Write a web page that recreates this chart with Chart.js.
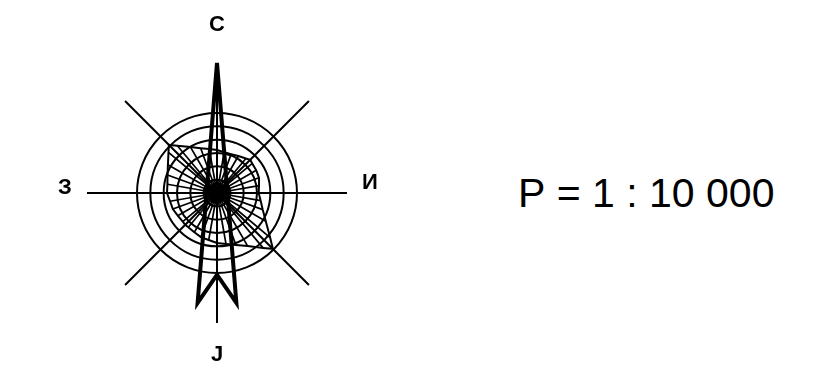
<!DOCTYPE html>
<html>
<head>
<meta charset="utf-8">
<script src="https://cdn.jsdelivr.net/npm/chart.js@4.4.1/dist/chart.umd.min.js"></script>
<style>
  html, body { margin: 0; padding: 0; background: #fff; }
  body { width: 828px; height: 386px; position: relative; overflow: hidden; }
  #rose { position: absolute; left: 37px; top: 13px; }
  #scaleText { position: absolute; left: 518px; top: 173px; font: 41px 'Liberation Sans', Arial, sans-serif; line-height: 41px; color: #000; white-space: nowrap; }
</style>
</head>
<body>
<canvas id="rose" width="360" height="360"></canvas>
<div id="scaleText">Р = 1 : 10 000</div>
<script>
// directions in 5 degree steps, 0 = north, clockwise
const directions = Array.from({ length: 72 }, (_, i) => i * 5)

// spoke lengths every 10 degrees (ring step = 2)
const spokeLen = [6.45, 6.2, 6.2, 6.4, 6.75, 6.9, 6.8, 6.7, 6.4, 6.25, 6.65, 7.3,
                  8.45, 10.4, 10.75, 9.2, 8.3, 7.75, 7.5, 7.15, 7.05, 6.8, 6.7, 6.7,
                  6.8, 7.05, 7.15, 7.5, 7.55, 7.9, 8.5, 9.5, 9.25, 7.95, 7.15, 6.7]

// corners of the outline that sit between two spokes
const cornerDir = [45, 135, 225, 315]
const cornerLen = [7.05, 11.85, 6.75, 10.2]

// the north arrow
const arrowDir = [0, 170, 180, 190]
const arrowLen = [19.5, 16.75, 12.25, 16.75]

// long cross lines
const axisDir = [0, 45, 90, 135, 180, 225, 270, 315]
const axisLen = 19.5

const rings = [2, 4, 6, 8, 10, 12]

const compassDir = [0, 90, 180, 270]
const compassText = ['С', 'И', 'Ј', 'З']
const compassDist = [25.2, 22.95, 24.3, 22.8]
const compassShift = [0, -10, 0, -5]

const spokes = directions.map(d => d % 10 === 0 ? spokeLen[d / 10] : 0)
const outline = directions.map(d => {
  if (d % 10 === 0) return spokeLen[d / 10]
  const k = cornerDir.indexOf(d)
  return k < 0 ? null : cornerLen[k]
})
const axes = directions.map(d => axisDir.includes(d) ? axisLen : 0)
const arrow = directions.map(d => {
  const k = arrowDir.indexOf(d)
  return k < 0 ? null : arrowLen[k]
})

const compassLabels = {
  id: 'compassLabels',
  afterDraw(chart) {
    const r = chart.scales.r
    const ctx = chart.ctx
    ctx.save()
    ctx.font = 'bold 22px "Liberation Sans", Arial, sans-serif'
    ctx.fillStyle = '#000'
    ctx.textAlign = 'center'
    ctx.textBaseline = 'middle'
    compassDir.forEach((d, k) => {
      const p = r.getPointPosition(directions.indexOf(d), r.getDistanceFromCenterForValue(compassDist[k]))
      ctx.fillText(compassText[k], p.x, p.y + compassShift[k])
    })
    ctx.restore()
  }
}

const thin = { borderColor: '#000', borderWidth: 2, pointRadius: 0, fill: false }

new Chart(document.getElementById('rose'), {
  type: 'radar',
  data: {
    labels: directions,
    datasets: [
      { ...thin, label: 'arrow', data: arrow, spanGaps: true, borderWidth: 4 },
      { ...thin, label: 'outline', data: outline, spanGaps: true },
      { ...thin, label: 'spokes', data: spokes, borderWidth: 1.7 },
      { ...thin, label: 'axes', data: axes }
    ]
  },
  options: {
    responsive: false,
    animation: false,
    events: [],
    plugins: {
      legend: { display: false },
      tooltip: { enabled: false }
    },
    scales: {
      r: {
        min: 0,
        max: 27,
        startAngle: 0,
        ticks: { display: false, stepSize: 2 },
        pointLabels: { display: false },
        angleLines: { display: false },
        grid: {
          circular: true,
          lineWidth: 2,
          color: c => (c.tick && rings.includes(c.tick.value)) ? '#000' : 'rgba(0,0,0,0)'
        }
      }
    }
  },
  plugins: [compassLabels]
})
</script>
</body>
</html>
